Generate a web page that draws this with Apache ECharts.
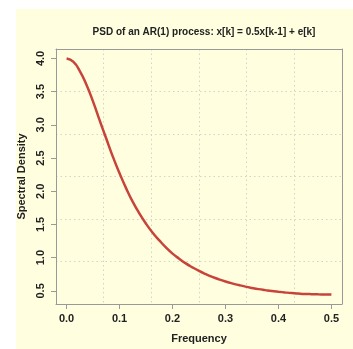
<!DOCTYPE html>
<html><head><meta charset="utf-8">
<script src="https://cdn.jsdelivr.net/npm/echarts@6/dist/echarts.min.js"></script>
<style>html,body{margin:0;padding:0;background:#fff;}#c{width:353px;height:349px;}</style>
</head><body><div id="c"></div>
<script>
const frequency = [0, 0.0125, 0.025, 0.0375, 0.05, 0.0625, 0.075, 0.0875, 0.1, 0.1125, 0.125, 0.1375, 0.15, 0.1625, 0.175, 0.1875, 0.2, 0.2125, 0.225, 0.2375, 0.25, 0.2625, 0.275, 0.2875, 0.3, 0.3125, 0.325, 0.3375, 0.35, 0.3625, 0.375, 0.3875, 0.4, 0.4125, 0.425, 0.4375, 0.45, 0.4625, 0.475, 0.4875, 0.5];
const density = [4.0, 3.951, 3.81, 3.602, 3.35, 3.066, 2.79, 2.517, 2.27, 2.043, 1.84, 1.665, 1.51, 1.375, 1.26, 1.153, 1.06, 0.984, 0.914, 0.854, 0.8, 0.753, 0.711, 0.674, 0.641, 0.612, 0.587, 0.564, 0.544, 0.526, 0.511, 0.497, 0.486, 0.476, 0.467, 0.460, 0.454, 0.450, 0.447, 0.445, 0.444];
const xTickValues = [0, 0.1, 0.2, 0.3, 0.4, 0.5];
const yTickValues = [0.5, 1.0, 1.5, 2.0, 2.5, 3.0, 3.5, 4.0];
const titleText = 'PSD of an AR(1) process: x[k] = 0.5x[k-1] + e[k]';

const chart = echarts.init(document.getElementById('c'), null, {renderer: 'canvas'});
const font = 'Liberation Sans, Arial, Helvetica, sans-serif';
const boxColor = '#999999';
const gridLine = {show: true, lineStyle: {color: '#d4d4c8', type: [1.5, 3], width: 1}};
chart.setOption({
  backgroundColor: '#ffffff',
  animation: false,
  graphic: [{type: 'rect', z: -10, shape: {x: 16, y: 9, width: 353, height: 349}, style: {fill: '#ffffe0'}}],
  title: {text: titleText, left: 199, top: 22, textAlign: 'center',
    textStyle: {fontFamily: font, fontWeight: 'bold', fontSize: 10, color: '#222'}},
  grid: {left: 56, right: 11, top: 49, bottom: 44, containLabel: false},
  xAxis: [{
    type: 'value', min: -0.02, max: 0.52, position: 'bottom',
    name: 'Frequency', nameLocation: 'middle', nameGap: 29,
    nameTextStyle: {fontFamily: font, fontWeight: 'bold', fontSize: 11, color: '#222'},
    axisLine: {show: true, onZero: false, lineStyle: {color: boxColor, width: 1}},
    axisTick: {show: true, customValues: xTickValues, length: 5, inside: false, lineStyle: {color: boxColor}},
    axisLabel: {show: true, customValues: xTickValues, margin: 9, formatter: v => v.toFixed(1),
      fontFamily: font, fontWeight: 'bold', fontSize: 11, color: '#222'},
    splitLine: {show: false}
  }, {
    type: 'value', min: 0, max: 6, interval: 1, position: 'top',
    axisLine: {show: true, onZero: false, lineStyle: {color: boxColor, width: 1}},
    axisTick: {show: false}, axisLabel: {show: false}, splitLine: gridLine
  }],
  yAxis: [{
    type: 'value', min: 0.302, max: 4.142, position: 'left',
    name: 'Spectral Density', nameLocation: 'middle', nameGap: 29, nameRotate: 90,
    nameTextStyle: {fontFamily: font, fontWeight: 'bold', fontSize: 11, color: '#222'},
    axisLine: {show: true, onZero: false, lineStyle: {color: boxColor, width: 1}},
    axisTick: {show: true, customValues: yTickValues, length: 5, inside: false, lineStyle: {color: boxColor}},
    axisLabel: {show: true, customValues: yTickValues, margin: 10, rotate: 90, formatter: v => v.toFixed(1),
      fontFamily: font, fontWeight: 'bold', fontSize: 11, color: '#222'},
    splitLine: {show: false}
  }, {
    type: 'value', min: 0, max: 6, interval: 1, position: 'right',
    axisLine: {show: true, onZero: false, lineStyle: {color: boxColor, width: 1}},
    axisTick: {show: false}, axisLabel: {show: false}, splitLine: gridLine
  }],
  series: [{
    type: 'line', xAxisIndex: 0, yAxisIndex: 0,
    data: frequency.map((f, i) => [f, density[i]]),
    smooth: true, showSymbol: false, symbol: 'none',
    lineStyle: {color: '#c8433a', width: 2.5}
  }]
});
</script></body></html>
